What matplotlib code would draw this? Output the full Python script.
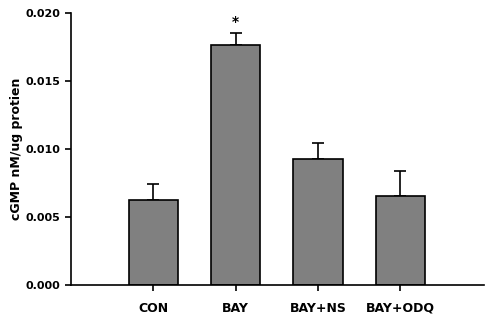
import matplotlib.pyplot as plt

groups = ["CON", "BAY", "BAY+NS", "BAY+ODQ"]
means = [0.00625, 0.01765, 0.00928, 0.00655]
sems = [0.00120, 0.00088, 0.00118, 0.00185]
marks = ["", "*", "", ""]

plt.rcParams["font.family"] = ["DejaVu Sans"]
plt.rcParams["font.weight"] = "bold"

fig = plt.figure(figsize=(4.9, 3.19), dpi=100)
ax = fig.add_axes([0.145, 0.107, 0.843, 0.852])

x = list(range(len(groups)))

ax.bar(
    x,
    means,
    width=0.6,
    color="#808080",
    edgecolor="black",
    linewidth=1.2,
    zorder=2
)

ax.errorbar(
    x,
    means,
    yerr=[[0] * len(sems), sems],
    fmt="none",
    ecolor="black",
    elinewidth=1.2,
    capsize=4,
    capthick=1.2,
    zorder=1
)

for xi, m, s, t in zip(x, means, sems, marks):
    if t:
        ax.text(xi, m + s + 0.0003, t, ha="center", va="bottom",
                fontsize=10, fontweight="bold")

ax.set_xlim(-1, 4.02)
ax.set_ylim(0, 0.020)
ax.set_yticks([0.0, 0.005, 0.010, 0.015, 0.020])
ax.set_yticklabels(["0.000", "0.005", "0.010", "0.015", "0.020"])
ax.set_xticks(x)
ax.set_xticklabels(groups)

ax.spines["top"].set_visible(False)
ax.spines["right"].set_visible(False)
ax.spines["left"].set_linewidth(1.2)
ax.spines["bottom"].set_linewidth(1.2)

ax.tick_params(axis="both", direction="out", length=4, width=1.2)
ax.tick_params(axis="y", labelsize=8)
ax.tick_params(axis="x", labelsize=9, pad=8)
for lab in ax.get_xticklabels() + ax.get_yticklabels():
    lab.set_fontweight("bold")

ax.set_ylabel("cGMP nM/ug protien", fontsize=9, fontweight="bold",
              labelpad=2)

fig.savefig("out.png", dpi=100)
